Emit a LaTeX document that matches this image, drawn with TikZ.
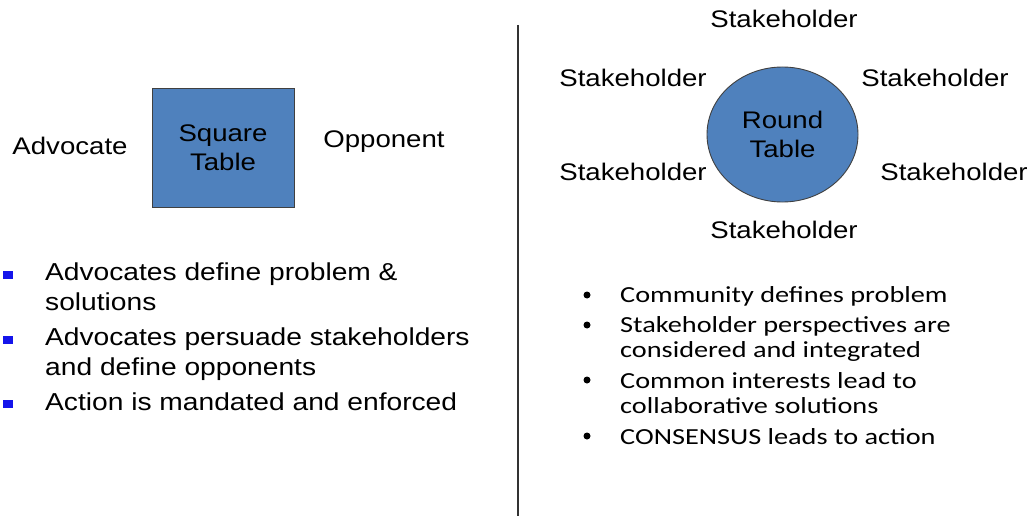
\documentclass[tikz,border=0pt]{standalone}
\usepackage{fontspec}
\setmainfont[FakeStretch=1.15]{Liberation Sans}
\newfontfamily\listfont[FakeStretch=1.23]{Carlito}
\usetikzlibrary{shapes.geometric}
\definecolor{TableBlue}{RGB}{79,129,189}
\definecolor{BulletBlue}{RGB}{20,20,235}

\begin{document}
\begin{tikzpicture}[x=1pt,y=-1pt,font=\fontsize{24}{29}\selectfont]
  \tikzset{TableStyle/.style  = {draw        = black!75,
                                 fill        = TableBlue,
                                 line width  = 0.9pt,
                                 align       = center,
                                 inner sep   = 0pt}}
  \tikzset{LabelStyle/.style  = {anchor      = base,
                                 inner sep   = 0pt}}
  \tikzset{ItemStyle/.style   = {anchor      = base west,
                                 align       = left,
                                 inner sep   = 0pt,
                                 font        = \fontsize{24.5}{29.5}\selectfont}}
  \tikzset{ListStyle/.style   = {anchor      = base west,
                                 align       = left,
                                 inner sep   = 0pt,
                                 font        = \listfont\fontsize{23}{25}\selectfont}}
  \tikzset{SquareBullet/.style = {rectangle,
                                 fill        = BulletBlue,
                                 inner sep   = 0pt,
                                 minimum width  = 9.5pt,
                                 minimum height = 8.5pt}}
  \tikzset{RoundBullet/.style = {circle,
                                 fill        = black,
                                 inner sep   = 0pt,
                                 minimum size = 7pt}}
%                                 draw = none

\useasboundingbox (0,0) rectangle (1032,516);

\coordinate (DivTop) at (518,25);
\coordinate (DivBot) at (518,516);

% left half: square table
\node[TableStyle, minimum width=142pt, minimum height=119pt] (SqTab) at (223,147.5) {Square\\Table};
\node[LabelStyle] (Adv) at (70,154) {Advocate};
\node[LabelStyle] (Opp) at (384,147) {Opponent};

% (base of a two-line node = base of its last line)
\node[SquareBullet] (SB1) at (8,275) {};
\node[SquareBullet] (SB2) at (8,340) {};
\node[SquareBullet] (SB3) at (8,404) {};
\node[ItemStyle] (L1) at (45,310) {Advocates define problem \&\\solutions};
\node[ItemStyle] (L2) at (45,375) {Advocates persuade stakeholders\\and define opponents};
\node[ItemStyle] (L3) at (45,410) {Action is mandated and enforced};

\draw[line width=1.5pt, black!80] (DivTop) -- (DivBot);

% right half: round table
\node[TableStyle, ellipse, minimum width=151pt, minimum height=135pt] (RdTab) at (782.5,134.5) {Round\\Table};
\node[LabelStyle] (S1) at (784,28) {Stakeholder};
\node[LabelStyle] (S2) at (633,87) {Stakeholder};
\node[LabelStyle] (S3) at (935,87) {Stakeholder};
\node[LabelStyle] (S4) at (633,180) {Stakeholder};
\node[LabelStyle] (S5) at (954,180) {Stakeholder};
\node[LabelStyle] (S6) at (784,238) {Stakeholder};

\node[RoundBullet] (RB1) at (587,295) {};
\node[RoundBullet] (RB2) at (587,325) {};
\node[RoundBullet] (RB3) at (587,380) {};
\node[RoundBullet] (RB4) at (587,436) {};
\node[ListStyle] (R1) at (620,302) {Community defines problem};
\node[ListStyle] (R2) at (620,357) {Stakeholder perspectives are\\considered and integrated};
\node[ListStyle] (R3) at (620,413) {Common interests lead to\\collaborative solutions};
\node[ListStyle] (R4) at (620,444) {CONSENSUS leads to action};
\end{tikzpicture}
\end{document}
